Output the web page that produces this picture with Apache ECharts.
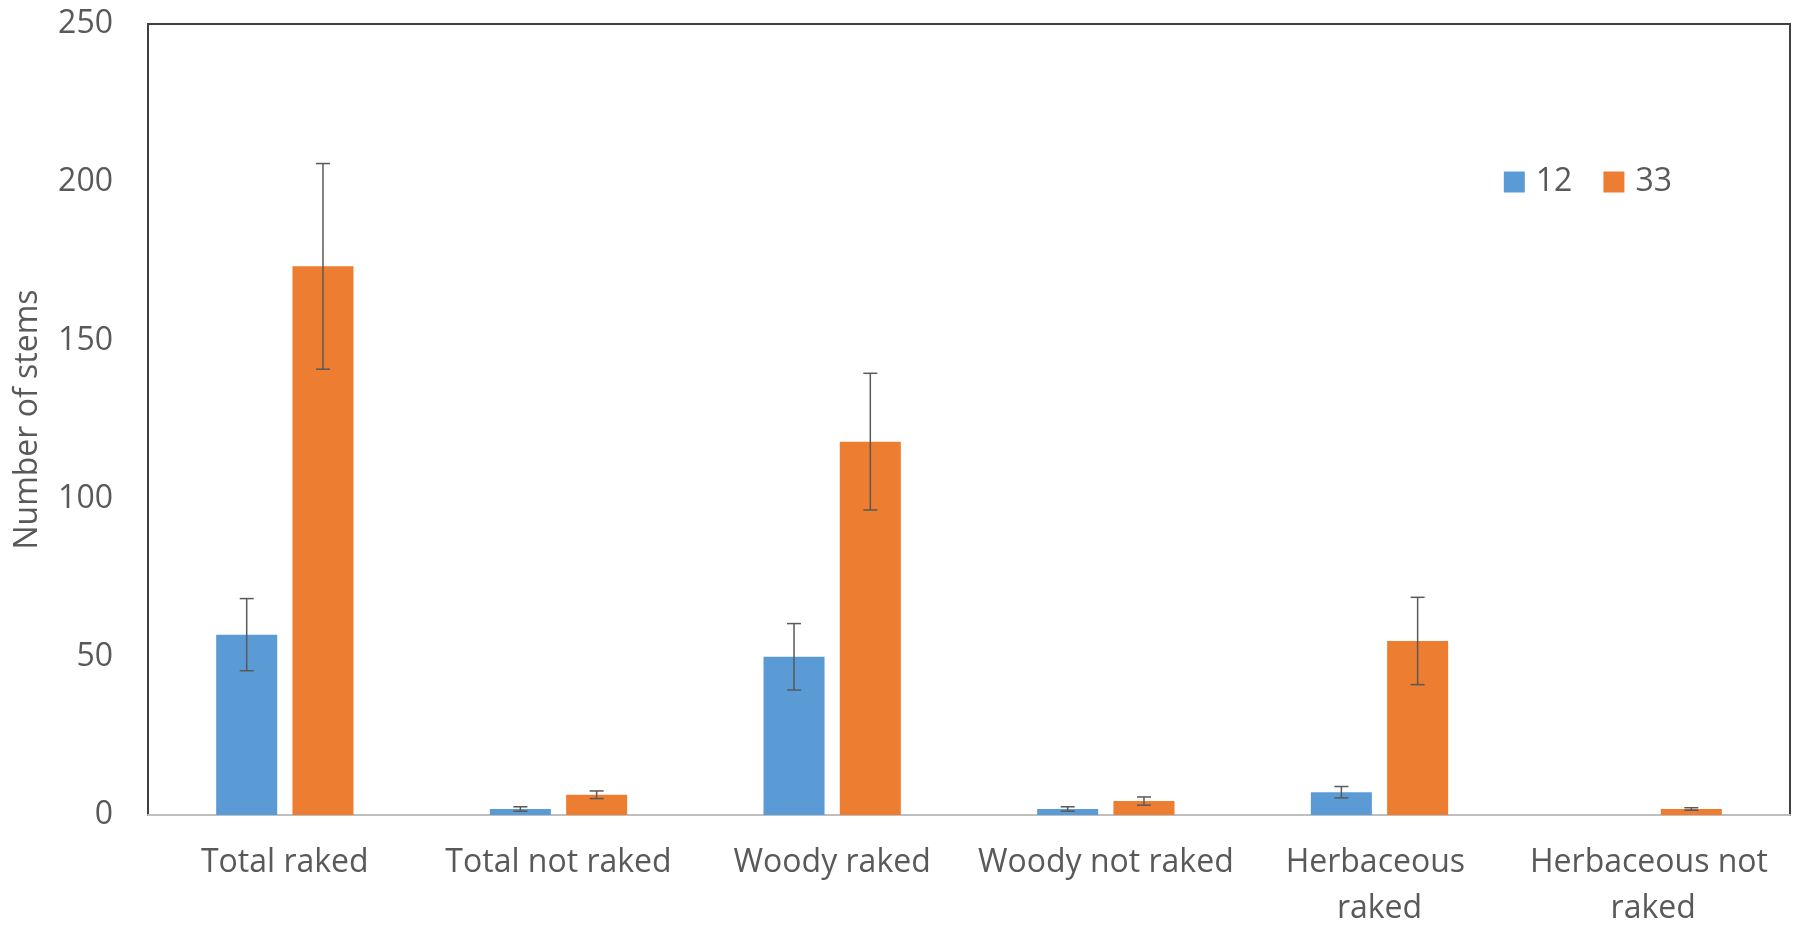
<!DOCTYPE html>
<html>
<head>
<meta charset="utf-8">
<script src="https://cdn.jsdelivr.net/npm/echarts@6/dist/echarts.min.js"></script>
<style>
html,body{margin:0;padding:0;background:#fff;}
#chart{width:1797px;height:927px;}
</style>
</head>
<body>
<div id="chart"></div>
<script>
var categories = ['Total raked', 'Total not raked', 'Woody raked', 'Woody not raked', 'Herbaceous raked', 'Herbaceous not raked'];
var seriesNames = ['12', '33'];
var values12 = [57, 1.9, 50, 1.9, 7.2, 0];
var errors12 = [11.4, 0.7, 10.5, 0.7, 1.8, 0];
var values33 = [173.4, 6.4, 118, 4.4, 55, 1.9];
var errors33 = [32.5, 1.2, 21.6, 1.3, 13.8, 0.4];
var yTicks = [0, 50, 100, 150, 200, 250];

var colors = ['#5B9BD5', '#ED7D31'];
var BAR_FRAC = 0.223, GAP = 0.25;

function errData(vals, errs) {
  return vals.map(function (v, i) { return [i, v - errs[i], v + errs[i]]; });
}
function errRender(sign) {
  return function (params, api) {
    var i = api.value(0);
    var band = api.size([1, 0])[0];
    var bw = band * BAR_FRAC;
    var off = sign * bw * (1 + GAP) / 2;
    var lo = api.coord([i, api.value(1)]);
    var hi = api.coord([i, api.value(2)]);
    var x = lo[0] + off;
    var cw = 7;
    var st = { stroke: '#595959', lineWidth: 1.5 };
    if (Math.abs(hi[1] - lo[1]) < 0.5) return null;
    return {
      type: 'group',
      children: [
        { type: 'line', shape: { x1: x, y1: lo[1], x2: x, y2: hi[1] }, style: st },
        { type: 'line', shape: { x1: x - cw, y1: lo[1], x2: x + cw, y2: lo[1] }, style: st },
        { type: 'line', shape: { x1: x - cw, y1: hi[1], x2: x + cw, y2: hi[1] }, style: st }
      ]
    };
  };
}

var font = 'Open Sans';
var chart = echarts.init(document.getElementById('chart'), null, { renderer: 'canvas' });
chart.setOption({
  animation: false,
  color: colors,
  grid: { left: 148, right: 7, top: 24, bottom: 112, outerBoundsMode: 'none', containLabel: false, show: true, borderColor: '#404040', borderWidth: 2, backgroundColor: '#fff' },
  legend: {
    data: seriesNames,
    right: 125, top: 166, padding: 0,
    itemWidth: 21, itemHeight: 21, itemGap: 31,
    icon: 'rect',
    textStyle: { fontFamily: font, fontSize: 32, color: '#595959', padding: [0, 0, 0, 6] }
  },
  xAxis: {
    type: 'category',
    data: categories,
    axisLine: { show: true, lineStyle: { color: '#bfbfbf', width: 2 } },
    axisTick: { show: false },
    axisLabel: {
      interval: 0, margin: 25, fontFamily: font, fontSize: 32, color: '#595959',
      lineHeight: 46, width: 262, overflow: 'break'
    }
  },
  yAxis: {
    type: 'value', min: yTicks[0], max: yTicks[yTicks.length - 1], interval: 50,
    name: 'Number of stems', nameLocation: 'middle', nameGap: 104,
    nameTextStyle: { fontFamily: font, fontSize: 32, color: '#595959' },
    axisLine: { show: false },
    axisTick: { show: false },
    splitLine: { show: false },
    axisLabel: { margin: 35, fontFamily: font, fontSize: 32, color: '#595959' }
  },
  series: [
    { name: seriesNames[0], type: 'bar', data: values12, barWidth: (BAR_FRAC * 100) + '%', barGap: (GAP * 100) + '%', itemStyle: { color: colors[0] } },
    { name: seriesNames[1], type: 'bar', data: values33, barWidth: (BAR_FRAC * 100) + '%', barGap: (GAP * 100) + '%', itemStyle: { color: colors[1] } },
    { type: 'custom', renderItem: errRender(-1), data: errData(values12, errors12), encode: { x: 0, y: [1, 2] }, z: 5, silent: true },
    { type: 'custom', renderItem: errRender(1), data: errData(values33, errors33), encode: { x: 0, y: [1, 2] }, z: 5, silent: true }
  ]
});
</script>
</body>
</html>
